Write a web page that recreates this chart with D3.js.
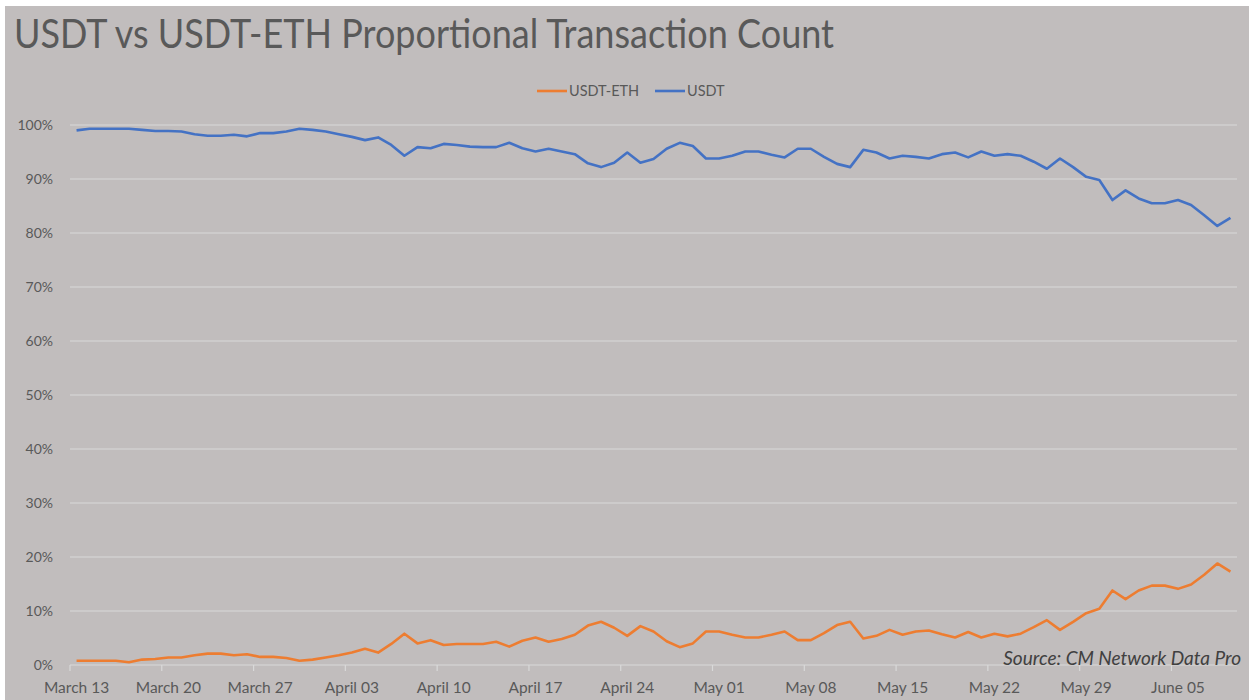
<!DOCTYPE html>
<html>
<head>
<meta charset="utf-8">
<script src="https://cdnjs.cloudflare.com/ajax/libs/d3/7.8.5/d3.min.js"></script>
<style>
  body { margin: 0; background: #fff; }
  text { font-family: Lato, "Open Sans", sans-serif; fill: #595959; }
</style>
</head>
<body>
<div id="chart-area"></div>
<script>
// categories: one per day, March 13 to June 09
var startDay = new Date(2019, 2, 13);
var endDay = new Date(2019, 5, 10);
var days = d3.timeDay.range(startDay, endDay);

var tickLabels = ["March 13", "March 20", "March 27", "April 03", "April 10", "April 17",
  "April 24", "May 01", "May 08", "May 15", "May 22", "May 29", "June 05"];

var yTicks = [0, 0.1, 0.2, 0.3, 0.4, 0.5, 0.6, 0.7, 0.8, 0.9, 1];

// share of transactions (%)
var usdtEth = [0.8, 0.8, 0.8, 0.8, 0.5, 1.0, 1.1, 1.4, 1.4, 1.8, 2.1, 2.1, 1.8, 2.0, 1.5,
  1.5, 1.3, 0.8, 1.0, 1.4, 1.8, 2.3, 3.0, 2.3, 3.9, 5.8, 4.0,
  4.6, 3.7, 3.9, 3.9, 3.9, 4.3, 3.4, 4.5, 5.1, 4.3, 4.8, 5.6, 7.3, 8.0, 6.9,
  5.4, 7.2, 6.2, 4.4, 3.3, 4.0, 6.2, 6.2, 5.6, 5.1, 5.1, 5.6, 6.2, 4.6, 4.6,
  5.9, 7.4, 8.0, 4.9, 5.4, 6.5, 5.6, 6.2, 6.4, 5.7, 5.1, 6.1, 5.1, 5.8, 5.3,
  5.8, 7.0, 8.3, 6.5, 8.0, 9.6, 10.4, 13.8, 12.2, 13.8, 14.7, 14.7, 14.1, 14.9, 16.7,
  18.8, 17.3];

var usdt = [99.0, 99.3, 99.3, 99.3, 99.3, 99.1, 98.9, 98.9, 98.8, 98.3, 98.0, 98.0, 98.2, 97.9, 98.5,
  98.5, 98.8, 99.3, 99.1, 98.8, 98.3, 97.8, 97.2, 97.7, 96.3, 94.3, 95.9,
  95.7, 96.5, 96.3, 96.0, 95.9, 95.9, 96.7, 95.7, 95.1, 95.6, 95.1, 94.6, 92.9, 92.2, 93.0,
  94.9, 93.0, 93.7, 95.6, 96.7, 96.1, 93.8, 93.8, 94.3, 95.1, 95.1, 94.5, 94.0, 95.6, 95.6,
  94.1, 92.8, 92.2, 95.4, 94.9, 93.8, 94.3, 94.1, 93.8, 94.6, 94.9, 94.0, 95.1, 94.3, 94.6,
  94.3, 93.2, 91.9, 93.8, 92.2, 90.4, 89.8, 86.1, 87.9, 86.4, 85.5, 85.5, 86.1, 85.2, 83.3,
  81.3, 82.8];

var seriesNames = ["USDT-ETH", "USDT"];
var seriesColors = ["#ed7d31", "#4472c4"];

var width = 1249, height = 700;

var svg = d3.select("#chart-area").append("svg")
  .attr("width", width)
  .attr("height", height);

// grey chart background
svg.append("rect")
  .attr("x", 5).attr("y", 6)
  .attr("width", width - 5).attr("height", height - 6)
  .attr("fill", "#c1bdbd");

svg.append("text")
  .attr("x", 14).attr("y", 48)
  .attr("font-size", 40)
  .attr("textLength", 820)
  .attr("lengthAdjust", "spacingAndGlyphs")
  .text("USDT vs USDT-ETH Proportional Transaction Count");

// scales
var x = d3.scaleBand()
  .domain(days.map(function(d, i) { return i; }))
  .range([70, 1237])
  .padding(0);

var y = d3.scaleLinear()
  .domain([0, 1])
  .range([665, 125]);

// gridlines
svg.append("g").selectAll("line")
  .data(yTicks)
  .enter().append("line")
  .attr("x1", 70).attr("x2", 1237)
  .attr("y1", function(d) { return y(d); })
  .attr("y2", function(d) { return y(d); })
  .attr("stroke", "#d9d9d9")
  .attr("stroke-width", 1.2);

// y axis labels
var yAxis = d3.axisLeft(y)
  .tickValues(yTicks)
  .tickFormat(d3.format(".0%"))
  .tickSize(0)
  .tickPadding(0);

var yAxisGroup = svg.append("g")
  .attr("transform", "translate(53,0)")
  .call(yAxis);
yAxisGroup.select(".domain").remove();
yAxisGroup.selectAll("text")
  .attr("font-size", 14)
  .attr("font-family", "Lato, sans-serif")
  .attr("fill", "#595959");

// x axis: ticks at category edges every 7 days, labels centred on category
var tickIdx = tickLabels.map(function(d, i) { return i * 7; });

var xAxisGroup = svg.append("g").attr("class", "x-axis");

xAxisGroup.selectAll(".tick-mark")
  .data(tickIdx)
  .enter().append("line")
  .attr("class", "tick-mark")
  .attr("x1", function(d) { return x(d); })
  .attr("x2", function(d) { return x(d); })
  .attr("y1", 665).attr("y2", 671)
  .attr("stroke", "#d9d9d9")
  .attr("stroke-width", 1.2);

xAxisGroup.selectAll(".tick-label")
  .data(tickIdx)
  .enter().append("text")
  .attr("class", "tick-label")
  .attr("x", function(d) { return x(d) + x.bandwidth() / 2; })
  .attr("y", 693)
  .attr("text-anchor", "middle")
  .attr("font-size", 15.5)
  .text(function(d, i) { return tickLabels[i]; });

// lines
var line = d3.line()
  .x(function(d, i) { return x(i) + x.bandwidth() / 2; })
  .y(function(d) { return y(d / 100); });

[usdtEth, usdt].forEach(function(s, k) {
  svg.append("path")
    .datum(s)
    .attr("fill", "none")
    .attr("stroke", seriesColors[k])
    .attr("stroke-width", 2.6)
    .attr("stroke-linejoin", "round")
    .attr("d", line);
});

// legend
var legendX = [537, 655];
var legend = svg.selectAll(".legend")
  .data(seriesNames)
  .enter().append("g")
  .attr("class", "legend")
  .attr("transform", function(d, i) { return "translate(" + legendX[i] + ",91)"; });

legend.append("line")
  .attr("x1", 0).attr("x2", 30)
  .attr("stroke", function(d, i) { return seriesColors[i]; })
  .attr("stroke-width", 2.6);

legend.append("text")
  .attr("x", 32).attr("y", 5)
  .attr("font-size", 14.5)
  .text(function(d) { return d; });

// source note
svg.append("text")
  .attr("x", 1241).attr("y", 665)
  .attr("text-anchor", "end")
  .attr("font-size", 19)
  .attr("font-style", "italic")
  .style("fill", "#404040")
  .text("Source: CM Network Data Pro");
</script>
</body>
</html>
